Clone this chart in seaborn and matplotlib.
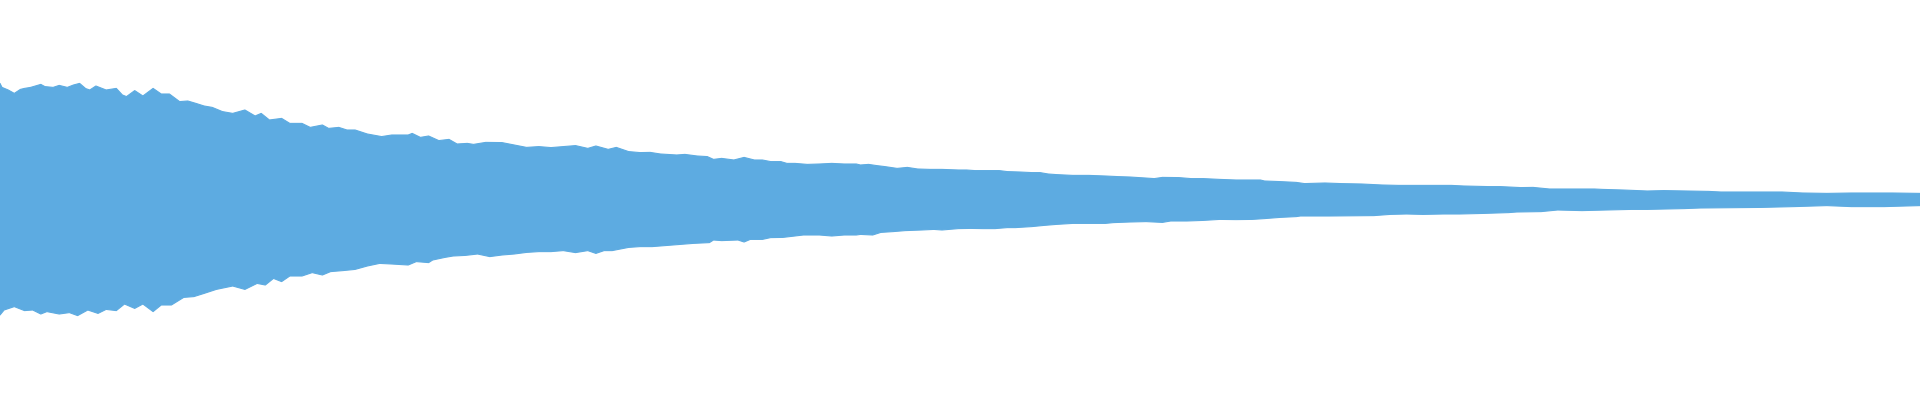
import numpy as np
import pandas as pd
import matplotlib
matplotlib.use("Agg")
import matplotlib.pyplot as plt
import seaborn as sns

# Waveform envelope.
# Position is the sample position along the track (0-1920), amplitude in % of full scale.
top_pos = [0, 2.0, 8.2, 14.3, 20.4, 24.5, 30.6, 40.8, 44.9, 53.1, 59.2, 67.3, 73.5, 79.6, 85.7, 89.8,
           95.9, 106.1, 116.3, 122.4, 126.5, 134.7, 142.9, 153.1, 161.2, 169.4, 179.6, 187.8, 195.9,
           204.1, 212.2, 222.4, 232.7, 244.9, 255.1, 261.2, 269.4, 281.6, 289.8, 302.0, 310.2, 322.4,
           328.6, 338.8, 346.9, 355.1, 367.3, 381.6, 391.8, 408.2, 412.2, 420.4, 428.6, 438.8, 449.0,
           457.1, 467.3, 473.5, 485.7, 502.0, 514.3, 526.5, 538.8, 551.0, 563.3, 575.5, 587.8, 595.9,
           608.2, 616.3, 628.6,
           640, 650.2, 660.4, 676.7, 684.9, 697.1, 707.3, 713.5, 721.6, 733.9, 744.1, 754.3, 762.4,
           770.6, 780.8, 786.9, 795.1, 807.3, 819.6, 831.8, 844.1, 856.3, 860.4, 868.6, 876.7, 884.9,
           897.1, 907.3, 917.6, 929.8, 942.0, 958.4, 966.5, 974.7, 991.0, 999.2, 1007.3, 1019.6,
           1031.8, 1040.0, 1048.2, 1056.3, 1072.7, 1089.0, 1105.3, 1117.6, 1129.8, 1146.1, 1154.3,
           1162.4, 1178.8, 1191.0, 1203.3, 1219.6, 1235.9, 1260.4, 1264.5,
           1280, 1296.3, 1304.5, 1324.9, 1341.2, 1361.6, 1382.0, 1398.4, 1414.7, 1451.4, 1463.7,
           1488.2, 1500.4, 1520.8, 1533.1, 1549.4, 1594.3, 1602.4, 1622.9, 1647.3, 1663.7, 1688.2,
           1708.6, 1720.8, 1782.0, 1802.4, 1826.9, 1851.4, 1892.2, 1920]
top_amp = [58.3, 56.3, 55.0, 53.3, 55.3, 55.8, 56.3, 57.8, 56.7, 56.3, 57.3, 56.3, 57.5, 58.3, 55.7, 55.0,
           57.0, 55.0, 55.8, 52.5, 51.7, 54.7, 52.0, 55.8, 53.0, 53.0, 49.2, 49.5, 48.3,
           47.0, 46.3, 44.2, 43.3, 45.0, 42.0, 43.3, 40.0, 40.8, 38.3, 38.3, 36.3, 37.5,
           35.8, 36.3, 35.0, 35.0, 33.0, 31.7, 32.5, 32.5, 33.3, 31.3, 32.0, 29.7, 30.3,
           28.0, 28.3, 27.8, 28.8, 28.7, 27.5, 26.3, 26.7, 26.2, 26.7, 27.2, 25.8, 27.0,
           25.3, 26.3, 24.2,
           23.7, 23.8, 23.0, 22.5, 22.8, 22.0, 21.7, 20.3, 20.8, 20.0, 21.3, 20.0, 20.0,
           19.2, 19.2, 18.3, 18.3, 17.8, 18.0, 18.3, 18.0, 18.0, 17.5, 17.8, 17.2, 16.7,
           15.8, 16.3, 15.5, 15.3, 15.3, 15.0, 15.0, 14.7, 14.7, 14.7, 14.2, 14.0,
           13.7, 13.7, 13.0, 12.7, 12.3, 12.3, 12.0, 11.7, 11.5, 11.0, 10.7,
           11.3, 11.2, 10.7, 10.7, 10.3, 10.0, 10.0, 9.5,
           9.2, 8.8, 8.2, 8.5, 8.2, 8.0, 7.5, 7.3, 7.3, 7.3, 7.0,
           6.7, 6.7, 6.2, 6.3, 5.5, 5.5, 5.3, 5.0, 4.5, 4.7, 4.5,
           4.3, 4.0, 4.0, 3.5, 3.3, 3.5, 3.5, 3.3]

bottom_pos = [0, 4.1, 14.3, 24.5, 32.7, 40.8, 46.9, 59.2, 69.4, 77.6, 87.8, 98.0, 106.1, 116.3, 124.5,
              134.7, 142.9, 153.1, 161.2, 171.4, 183.7, 193.9, 204.1, 216.3, 232.7, 244.9, 257.1,
              265.3, 273.5, 281.6, 289.8, 302.0, 312.2, 322.4, 330.6, 342.9, 355.1, 367.3, 379.6,
              391.8, 408.2, 416.3, 428.6, 432.7, 444.9, 453.1, 465.3, 477.6, 489.8, 502.0, 514.3,
              526.5, 538.8, 551.0, 563.3, 575.5, 587.8, 595.9, 604.1, 612.2, 628.6,
              640, 652.2, 660.4, 672.7, 684.9, 693.1, 709.4, 713.5, 721.6, 738.0, 744.1, 750.2,
              762.4, 770.6, 782.9, 795.1, 803.3, 819.6, 831.8, 844.1, 856.3, 860.4, 872.7, 880.8,
              893.1, 905.3, 921.6, 933.9, 942.0, 958.4, 970.6, 982.9, 995.1, 1007.3, 1015.5,
              1031.8, 1044.1, 1056.3, 1072.7, 1089.0, 1105.3, 1113.5, 1129.8, 1146.1, 1162.4,
              1170.6, 1186.9, 1203.3, 1219.6, 1235.9, 1252.2, 1264.5,
              1280, 1296.3, 1300.4, 1329.0, 1373.9, 1390.2, 1406.5, 1422.9, 1443.3, 1459.6,
              1484.1, 1508.6, 1516.7, 1541.2, 1557.6, 1582.0, 1606.5, 1631.0, 1647.3, 1684.1,
              1700.4, 1745.3, 1761.6, 1794.3, 1826.9, 1851.4, 1884.1, 1920]
bottom_amp = [-57.5, -55.0, -53.3, -55.3, -55.0, -57.0, -55.8, -57.0, -56.3, -57.8, -55.0, -56.7, -54.7,
              -55.3, -52.0, -54.2, -52.0, -55.8, -52.5, -52.5, -48.7, -48.3, -46.7, -44.7, -43.0,
              -44.7, -41.7, -42.5, -39.2, -40.8, -38.0, -38.0, -36.3, -37.5, -35.8, -35.3, -34.7,
              -33.0, -31.7, -32.0, -32.5, -30.8, -31.3, -30.0, -28.7, -28.0, -27.7, -27.0, -28.3,
              -27.5, -27.0, -26.2, -25.8, -25.8, -25.3, -26.3, -25.3, -26.7, -25.3, -25.3, -23.7,
              -23.3, -23.3, -23.0, -22.5, -22.0, -21.7, -21.3, -20.0, -20.3, -20.0, -21.0, -19.7,
              -19.7, -18.8, -18.7, -18.0, -17.5, -17.5, -18.0, -17.5, -17.5, -17.2, -17.5, -16.2,
              -15.8, -15.3, -15.0, -14.7, -15.0, -14.3, -14.2, -14.3, -14.3, -13.8, -13.8,
              -13.3, -12.7, -12.2, -11.7, -11.7, -11.7, -11.3, -11.0, -10.8, -11.2,
              -10.5, -10.5, -10.2, -9.7, -9.8, -9.7, -9.3,
              -8.7, -8.3, -8.0, -8.0, -7.8, -7.2, -7.0, -7.2, -7.0, -7.0,
              -6.7, -6.3, -6.0, -5.8, -5.0, -5.3, -5.0, -4.7, -4.7, -4.3,
              -4.0, -3.8, -3.7, -3.3, -2.8, -3.3, -3.3, -2.8]

wave_color = "#5dabe1"

top = pd.DataFrame({"pos": top_pos, "amp": top_amp})
bottom = pd.DataFrame({"pos": bottom_pos, "amp": bottom_amp})

sns.set_theme(style="white")
fig = plt.figure(figsize=(19.2, 4), dpi=100)
ax = fig.add_axes([0, 0, 1, 1])

# filled waveform: upper envelope forward, lower envelope back
outline_x = np.concatenate([top["pos"].values, bottom["pos"].values[::-1]])
outline_y = np.concatenate([top["amp"].values, bottom["amp"].values[::-1]])
ax.fill(outline_x, outline_y, color=wave_color, linewidth=0)
sns.lineplot(data=top, x="pos", y="amp", ax=ax, color=wave_color, linewidth=0.8, sort=False)
sns.lineplot(data=bottom, x="pos", y="amp", ax=ax, color=wave_color, linewidth=0.8, sort=False)

ax.set_xlim(0, 1920)
ax.set_ylim(-100, 100)
ax.axis("off")

fig.savefig("out.png", dpi=100, facecolor="white")
